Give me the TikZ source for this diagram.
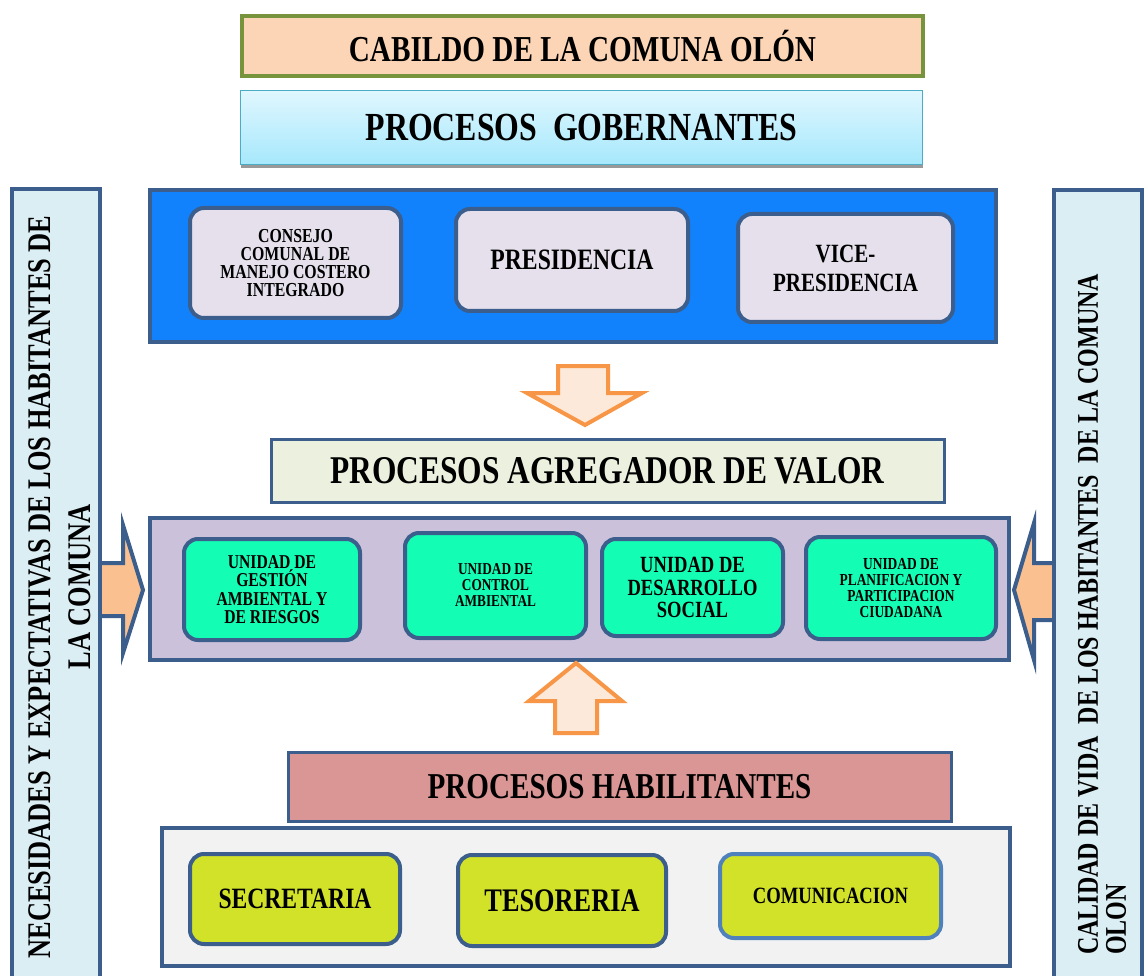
\documentclass[tikz,border=0pt]{standalone}
\usepackage{fontspec}
\newfontfamily\tnr{Liberation Serif}[FakeStretch=0.8]
\usetikzlibrary{shadows}
\definecolor{frame}{HTML}{3B5E8C}
\definecolor{peach}{HTML}{FBD5B5}
\definecolor{olive}{HTML}{77933C}
\definecolor{govtop}{HTML}{E0F7FE}
\definecolor{govbot}{HTML}{A6E8FC}
\definecolor{govline}{HTML}{4BACC6}
\definecolor{bluefill}{HTML}{1282FC}
\definecolor{lilac}{HTML}{E5E0EC}
\definecolor{arrline}{HTML}{F79646}
\definecolor{arrfill}{HTML}{FDE9D9}
\definecolor{agrfill}{HTML}{EBF1DE}
\definecolor{lavender}{HTML}{CCC1DA}
\definecolor{mint}{HTML}{14FDB4}
\definecolor{rose}{HTML}{D99694}
\definecolor{lightgray}{HTML}{F2F2F2}
\definecolor{ygreen}{HTML}{D2E229}
\definecolor{sidefill}{HTML}{DBEEF3}
\definecolor{sidearrow}{HTML}{FAC090}
\definecolor{commline}{HTML}{4F81BD}
\newcommand\fsz[2]{\fontsize{#1}{#2}\selectfont}
\begin{document}
\begin{tikzpicture}[x=1pt,y=-1pt,
  box/.style={draw=frame, line width=4pt, inner sep=0pt, font=\tnr\bfseries, align=center},
  rbox/.style={box, rounded corners=14pt},
  txt/.style={inner sep=0pt, font=\tnr\bfseries},
  blockarrow/.style={draw=arrline, fill=arrfill, line width=4pt, line join=miter},
  sidearr/.style={draw=frame, fill=sidearrow, line width=4pt, line join=miter}]
\clip (0,0) rectangle (1146,976);
\fill[white] (0,0) rectangle (1146,976);

% side arrows
\draw[sidearr] (96,563) -- (123,563) -- (123,525) -- (143,590) -- (123,653) -- (123,616) -- (96,616) -- cycle;
\draw[sidearr] (1060,563) -- (1034,563) -- (1034,523) -- (1014,590) -- (1034,660) -- (1034,620) -- (1060,620) -- cycle;

% side boxes
\node[box, fill=sidefill, rotate=90, minimum width=800, minimum height=88] (leftbox) at (56,589) {};
\node[txt, rotate=90, align=center, font=\tnr\bfseries\fsz{33}{40}] (lefttxt) at (60,587)
  {NECESIDADES Y EXPECTATIVAS DE LOS HABITANTES DE\\LA COMUNA};
\node[box, fill=sidefill, rotate=90, minimum width=800, minimum height=88] (rightbox) at (1098,590) {};
\node[txt, rotate=90, align=left, anchor=west, font=\tnr\bfseries\fsz{30}{28}] (righttxt) at (1102,955)
  {CALIDAD DE VIDA\ \ DE LOS HABITANTES\ \ DE LA COMUNA\\OLON};

% top headers
\node[box, draw=olive, fill=peach, minimum width=681, minimum height=60, font=\tnr\bfseries\fsz{36.5}{40}] (cabildo) at (582.5,46) {CABILDO DE LA COMUNA OL\'ON};
\node[box, draw=govline, line width=1.5pt, top color=govtop, bottom color=govbot,
  drop shadow={shadow xshift=0pt, shadow yshift=-4pt, fill=gray!80, opacity=1},
  minimum width=682, minimum height=74, font=\tnr\bfseries\fsz{39.8}{44}] (gober) at (581.5,127.5) {PROCESOS\ \ GOBERNANTES};

% gobernantes group
\node[box, fill=bluefill, minimum width=846, minimum height=152] (blue) at (573,266) {};
\node[rbox, fill=lilac, minimum width=211, minimum height=110, font=\tnr\bfseries\fsz{19.8}{18}] (consejo) at (295.5,263)
  {CONSEJO\\COMUNAL DE\\MANEJO COSTERO\\INTEGRADO};
\node[rbox, fill=lilac, minimum width=232, minimum height=102, font=\tnr\bfseries\fsz{29.6}{30}] (presi) at (572,260) {PRESIDENCIA};
\node[rbox, fill=lilac, minimum width=215, minimum height=108, font=\tnr\bfseries\fsz{26.3}{29}] (vice) at (845.5,268) {VICE-\\PRESIDENCIA};

% down arrow
\draw[blockarrow] (558,366) -- (608,366) -- (608,393) -- (642,393) -- (585,425) -- (527,393) -- (558,393) -- cycle;

% agregador
\node[box, line width=3pt, fill=agrfill, minimum width=673, minimum height=63, font=\tnr\bfseries\fsz{39.3}{42}] (agreg) at (607.5,470.5) {PROCESOS AGREGADOR DE VALOR};
\node[box, fill=lavender, minimum width=859, minimum height=142] (lav) at (579.5,589) {};
\node[rbox, fill=mint, minimum width=176, minimum height=101, font=\tnr\bfseries\fsz{19.6}{18.5}] (gestion) at (272,589.5)
  {UNIDAD DE\\GESTI\'ON\\AMBIENTAL Y\\DE RIESGOS};
\node[rbox, fill=mint, minimum width=181, minimum height=105, font=\tnr\bfseries\fsz{16.6}{16}] (control) at (495.5,585.5)
  {UNIDAD DE\\CONTROL\\AMBIENTAL};
\node[rbox, fill=mint, minimum width=181, minimum height=97, font=\tnr\bfseries\fsz{23.2}{22.5}] (desarrollo) at (692.5,587.5)
  {UNIDAD DE\\DESARROLLO\\SOCIAL};
\node[rbox, fill=mint, minimum width=190, minimum height=102, font=\tnr\bfseries\fsz{16.8}{15.7}] (planif) at (901,588)
  {UNIDAD DE\\PLANIFICACION Y\\PARTICIPACION\\CIUDADANA};

% up arrow
\draw[blockarrow] (555,733) -- (597,733) -- (597,701) -- (622,701) -- (576,663) -- (529,701) -- (555,701) -- cycle;

% habilitantes
\node[box, line width=3pt, fill=rose, minimum width=663, minimum height=69, font=\tnr\bfseries\fsz{36.4}{40}] (habil) at (619.5,786.5) {PROCESOS HABILITANTES};
\node[box, fill=lightgray, minimum width=848, minimum height=138] (grey) at (586,897) {};
\node[rbox, fill=ygreen, minimum width=210, minimum height=90, font=\tnr\bfseries\fsz{29.5}{30}] (secre) at (295,899) {SECRETARIA};
\node[rbox, fill=ygreen, minimum width=208, minimum height=91, font=\tnr\bfseries\fsz{32.9}{33}] (teso) at (562,900.5) {TESORERIA};
\node[rbox, draw=commline, fill=ygreen, minimum width=221, minimum height=84, font=\tnr\bfseries\fsz{23.3}{24}] (comu) at (830.5,896) {COMUNICACION};
\end{tikzpicture}
\end{document}
